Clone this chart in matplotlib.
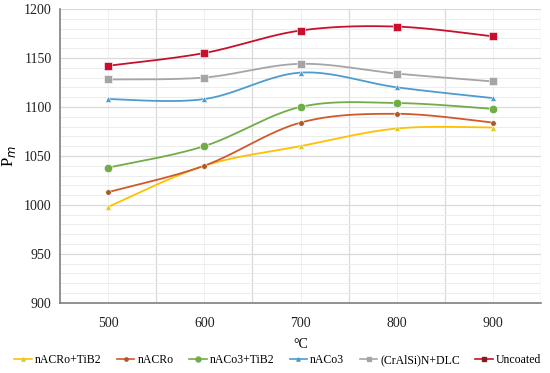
import numpy as np
import matplotlib
matplotlib.use('Agg')
import matplotlib.pyplot as plt
from matplotlib.ticker import MultipleLocator, FixedLocator
from matplotlib.lines import Line2D

plt.rcParams['font.family'] = ['Liberation Serif', 'DejaVu Serif']

temps = [500, 600, 700, 800, 900]
names = ['nACRo+TiB2', 'nACRo', 'nACo3+TiB2', 'nACo3', '(CrAlSi)N+DLC', 'Uncoated']
vals_nacro_tib2 = [998, 1040, 1060, 1078, 1079]
vals_nacro = [1013, 1040, 1084, 1093, 1084]
vals_naco3_tib2 = [1038, 1060, 1100, 1104, 1098]
vals_naco3 = [1108, 1108, 1135, 1120, 1109]
vals_dlc = [1128, 1130, 1144, 1134, 1126]
vals_uncoated = [1142, 1155, 1178, 1182, 1172]
series = [vals_nacro_tib2, vals_nacro, vals_naco3_tib2, vals_naco3, vals_dlc, vals_uncoated]

line_cols = ['#FFC000', '#D2582A', '#70AD47', '#4E9BCF', '#A5A5A5', '#C8102E']
mark_cols = ['#D8D020', '#A85A2A', '#70AD47', '#4E9BCF', '#A5A5A5', '#C8102E']
markers = ['^', 'o', 'o', '^', 's', 's']
msizes = [4, 4, 6, 4, 5.5, 6]


def smooth(x, y, n=40):
    # excel-like bezier smoothing between the points
    x = np.asarray(x, float)
    y = np.asarray(y, float)
    xs, ys = [], []
    for i in range(len(x) - 1):
        p0 = np.array([x[i], y[i]])
        p3 = np.array([x[i + 1], y[i + 1]])
        pm = np.array([x[i - 1], y[i - 1]]) if i > 0 else p0
        pp = np.array([x[i + 2], y[i + 2]]) if i + 2 < len(x) else p3
        c1 = p0 + (p3 - pm) / 6
        c2 = p3 - (pp - p0) / 6
        t = np.linspace(0, 1, n)[:, None]
        b = (1 - t) ** 3 * p0 + 3 * (1 - t) ** 2 * t * c1 + 3 * (1 - t) * t ** 2 * c2 + t ** 3 * p3
        xs.append(b[:, 0])
        ys.append(b[:, 1])
    return np.concatenate(xs), np.concatenate(ys)


fig = plt.figure(figsize=(5.5, 3.73), dpi=100)
ax = fig.add_axes([0.109, 0.188, 0.875, 0.788])

for v, lc, mc, m, ms, nm in zip(series, line_cols, mark_cols, markers, msizes, names):
    sx, sy = smooth(temps, v)
    ax.plot(sx, sy, color=lc, lw=1.3, zorder=3)
    ax.plot(temps, v, ls='none', marker=m, ms=ms, color=mc, mec='white', mew=0.4, zorder=4)

ax.set_xlim(450, 950)
ax.set_ylim(900, 1200)
ax.yaxis.set_major_locator(MultipleLocator(50))
ax.yaxis.set_minor_locator(MultipleLocator(10))
ax.xaxis.set_major_locator(FixedLocator(temps))
ax.xaxis.set_minor_locator(FixedLocator([550, 650, 750, 850, 950]))
ax.grid(which='major', axis='y', color='#d9d9d9', lw=0.9)
ax.grid(which='minor', axis='y', color='#ececec', lw=0.7)
ax.grid(which='minor', axis='x', color='#d9d9d9', lw=0.9)
ax.grid(which='major', axis='x', color='#f0f0f0', lw=0.7)
ax.set_axisbelow(True)
ax.tick_params(which='both', length=0, labelsize=10, colors='#222222', pad=10)
ax.tick_params(axis='y', pad=6)
for s in ['top', 'right']:
    ax.spines[s].set_visible(False)
ax.spines['left'].set_color('#7f7f7f')
ax.spines['bottom'].set_color('#7f7f7f')
ax.spines['left'].set_linewidth(1.2)
ax.spines['bottom'].set_linewidth(1.2)

ax.set_xlabel('°C', fontsize=10, labelpad=6)
ax.set_ylabel('P$_{m}$', fontsize=12, labelpad=4)

handles = [Line2D([0], [0], color=lc, lw=1.2, marker=m, ms=ms * 0.6, mfc=mc, mec=mc)
           for lc, mc, m, ms in zip(line_cols, mark_cols, markers, msizes)]
handles[-1].set_markerfacecolor('#8B1A1A')
handles[-1].set_markeredgecolor('#8B1A1A')
fig.legend(handles, names, loc='center', bbox_to_anchor=(0.505, 0.035), ncol=6,
           frameon=False, fontsize=8.5, handlelength=1.5, handletextpad=0.25,
           columnspacing=1.3)

fig.savefig('out.png', dpi=100)
